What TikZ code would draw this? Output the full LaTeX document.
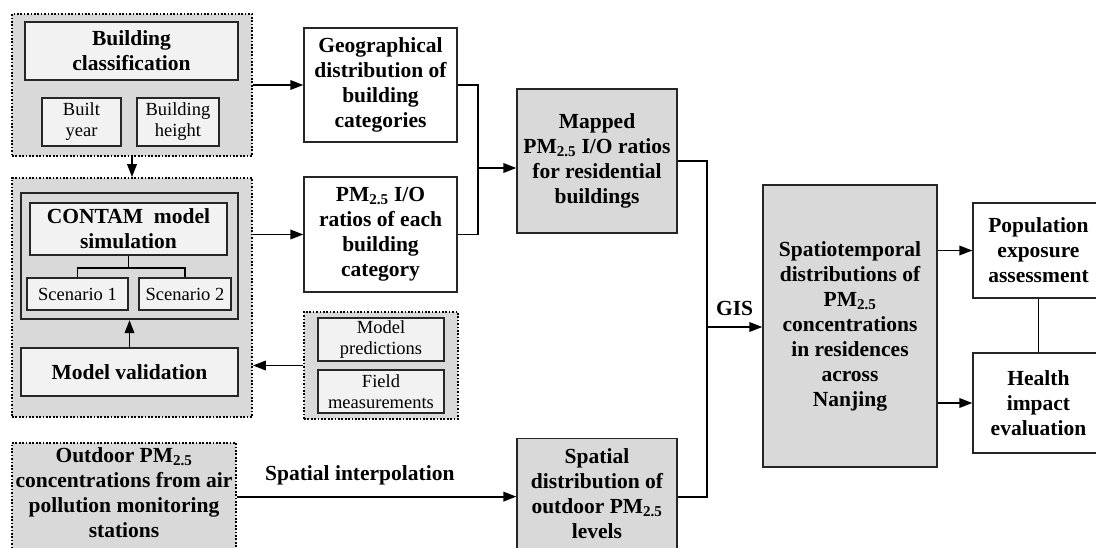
\documentclass[tikz,border=0pt]{standalone}
\usepackage{fontspec}
\setmainfont{Liberation Serif}
\usetikzlibrary{arrows.meta,calc}
\definecolor{grpgray}{HTML}{D9D9D9}
\definecolor{lightbox}{HTML}{F2F2F2}
\definecolor{edge}{HTML}{262626}
\tikzset{
  base/.style={draw=edge, line width=1.3pt, align=center, inner sep=2pt,
    font=\fontsize{21.5}{25}\selectfont\bfseries},
  whitebox/.style={base, fill=white},
  graybox/.style={base, fill=grpgray},
  lightbold/.style={base, fill=lightbox},
  smallbox/.style={base, fill=lightbox, font=\fontsize{18.5}{21}\selectfont},
  group/.style={base, draw=black, fill=grpgray, line width=1.7pt, dash pattern=on 1.7pt off 1.7pt},
  thickframe/.style={draw=edge, fill=grpgray, line width=2.2pt, inner sep=0pt},
  conn/.style={draw=black, line width=1.9pt},
  arr/.style={conn, -{Triangle[length=13pt,width=9.5pt]}},
  lbl/.style={font=\fontsize{21.5}{25}\selectfont\bfseries, inner sep=2pt},
}
\begin{document}
\begin{tikzpicture}[x=1pt,y=-1pt]
\useasboundingbox (0,0) rectangle (1096,548);
\clip (0,0) rectangle (1096,548);

% group 1
\node[group, minimum width=240pt, minimum height=142pt] (grp1) at (132,85) {};
\node[lightbold, minimum width=213pt, minimum height=58pt] (bc) at (131.5,51) {Building\\classification};
\node[smallbox, minimum width=79pt, minimum height=48pt] (by) at (81.5,122) {Built\\year};
\node[smallbox, minimum width=82pt, minimum height=48pt] (bh) at (178,122) {Building\\height};

% group 2
\node[group, minimum width=240pt, minimum height=239pt] (grp2) at (132,297.5) {};
\node[thickframe, minimum width=217pt, minimum height=126pt] (sim) at (129.5,256) {};
\node[lightbold, minimum width=197pt, minimum height=52pt] (contam) at (128.5,229) {CONTAM~ model\\simulation};
\node[smallbox, minimum width=101pt, minimum height=32pt] (sc1) at (77.5,294) {Scenario 1};
\node[smallbox, minimum width=92pt, minimum height=32pt] (sc2) at (185,294) {Scenario 2};
\node[lightbold, line width=2.2pt, minimum width=217pt, minimum height=48pt] (mv) at (129.5,372) {Model validation};
\coordinate (tj) at (128.5,268);

% group 3
\node[group, minimum width=154pt, minimum height=107pt] (grp3) at (381,365.5) {};
\node[smallbox, minimum width=126pt, minimum height=43pt] (mp) at (381,339.5) {Model\\predictions};
\node[smallbox, minimum width=126pt, minimum height=43pt] (fm) at (381,391.5) {Field\\measurements};

% middle column
\node[whitebox, minimum width=153pt, minimum height=114pt] (geo) at (380.5,85) {Geographical\\distribution of\\building\\categories};
\node[whitebox, minimum width=153pt, minimum height=115pt] (pmio) at (380.5,234.5) {PM\textsubscript{2.5} I/O\\ratios of each\\building\\category};
\node[graybox, minimum width=160pt, minimum height=144pt] (mapped) at (597,161) {Mapped\\PM\textsubscript{2.5} I/O ratios\\for residential\\buildings};

% bottom row
\node[group, anchor=north, minimum width=224pt, inner ysep=5pt] (outdoor) at (124,442) {Outdoor PM\textsubscript{2.5}\\concentrations from air\\pollution monitoring\\stations\rule[-8pt]{0pt}{8pt}};
\node[graybox, anchor=north, minimum width=160pt, inner ysep=10pt] (spatial) at (597,438) {Spatial\\distribution of\\outdoor PM\textsubscript{2.5}\\levels\rule[-6pt]{0pt}{6pt}};

% right part
\node[graybox, minimum width=174pt, minimum height=282pt] (spatio) at (850,326) {Spatiotemporal\\distributions of\\PM\textsubscript{2.5}\\concentrations\\in residences\\across\\Nanjing};
\node[whitebox, minimum width=131pt, minimum height=95pt] (pop) at (1038.5,250.5) {Population\\exposure\\assessment};
\node[whitebox, minimum width=131pt, minimum height=100pt] (health) at (1038.5,403) {Health\\impact\\evaluation};

\coordinate (j1) at (478,168);
\coordinate (j2) at (707,327);

% connectors
\draw[arr] (grp1.east) -- (geo.west);
\draw[arr] (grp1.south) -- (grp2.north);
\draw[arr] (grp2.east |- pmio.west) -- (pmio.west);
\draw[conn, line width=1.3pt] (contam.south) -- (tj);
\draw[conn, line width=1.3pt] (sc1.north) |- (tj) -| (sc2.north);
\draw[arr] (mv.north) -- (sim.south);
\draw[arr] (grp3.west) -- (grp3.west -| grp2.east);
\draw[conn] (geo.east) -| (j1) |- (pmio.east);
\draw[arr] (j1) -- (j1 -| mapped.west);
\draw[conn] (mapped.east) -| (j2) |- (spatial.east);
\draw[arr] (j2) -- node[lbl, above=8pt] {GIS} (j2 -| spatio.west);
\draw[arr] (outdoor.east |- spatial.east) -- node[lbl, pos=0.44, above=9pt] {Spatial interpolation} (spatial.west);
\draw[arr] (spatio.east |- pop.west) -- (pop.west);
\draw[arr] (spatio.east |- health.west) -- (health.west);
\draw[conn] (pop.south) -- (health.north);
\end{tikzpicture}
\end{document}
